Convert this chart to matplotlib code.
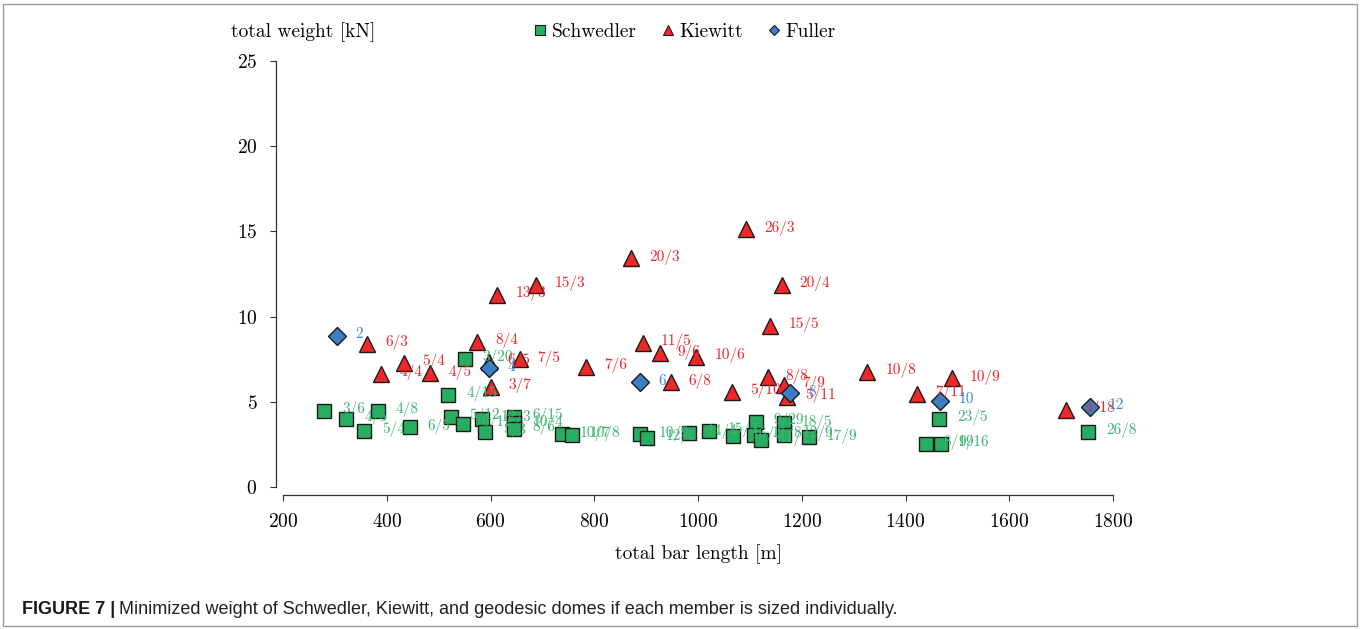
import numpy as np
import matplotlib.pyplot as plt
from matplotlib.lines import Line2D
from matplotlib.patches import Rectangle

plt.rcParams['font.family'] = ['cmr10', 'DejaVu Serif']
plt.rcParams['axes.formatter.use_mathtext'] = True

# Schwedler domes: total bar length [m], total weight [kN], rings/meridians
schwedler_x = [279, 322, 383, 356, 444, 519, 550, 524, 547, 584, 590, 645, 646, 646,
               737, 757, 889, 902, 982, 1022, 1068, 1111, 1108, 1121, 1165, 1166, 1214,
               1465, 1439, 1468, 1752]
schwedler_y = [4.48, 4.01, 4.48, 3.30, 3.50, 5.40, 7.51, 4.13, 3.70, 3.99, 3.25, 4.13, 3.74, 3.40,
               3.09, 3.05, 3.09, 2.89, 3.19, 3.29, 3.01, 3.83, 3.05, 2.76, 3.73, 3.05, 2.91,
               3.99, 2.55, 2.52, 3.25]
schwedler_lbl = ['3/6', '4/5', '4/8', '5/4', '6/5', '4/15', '3/20', '5/12', '6/12', '12/3', '5/3',
                 '6/15', '10/4', '8/6', '10/7', '10/8', '10/9', '12/6', '14/4', '15/4', '16/4',
                 '9/29', '11/8', '11/11', '18/5', '12/9', '17/9', '23/5', '8/19', '9/16', '26/8']

# Kiewitt domes
kiewitt_x = [362, 389, 434, 484, 574, 600, 597, 656, 613, 688, 784, 871, 894, 926, 947, 997,
             1066, 1093, 1134, 1139, 1161, 1166, 1171, 1326, 1423, 1489, 1710]
kiewitt_y = [8.39, 6.63, 7.30, 6.67, 8.53, 5.89, 7.35, 7.49, 11.27, 11.85, 7.06, 13.42, 8.47, 7.84,
             6.14, 7.65, 5.59, 15.12, 6.44, 9.45, 11.85, 5.99, 5.30, 6.77, 5.46, 6.38, 4.52]
kiewitt_lbl = ['6/3', '4/4', '5/4', '4/5', '8/4', '3/7', '6/5', '7/5', '13/3', '15/3', '7/6', '20/3',
               '11/5', '9/6', '6/8', '10/6', '5/10', '26/3', '8/8', '15/5', '20/4', '7/9', '5/11',
               '10/8', '7/11', '10/9', '4/18']

# geodesic (Fuller) domes, frequency
fuller_x = [304, 598, 888, 1178, 1467, 1756]
fuller_y = [8.88, 6.97, 6.14, 5.50, 5.07, 4.71]
fuller_lbl = ['2', '4', '6', '8', '10', '12']

x_ticks = [200, 400, 600, 800, 1000, 1200, 1400, 1600, 1800]
y_ticks = [0, 5, 10, 15, 20, 25]

green, green_txt = '#27ae60', '#3cb371'
red, red_txt = '#f02828', '#e8262b'
blue, blue_txt = '#3a7fc4', '#3b88d0'
edge = '#1a1a1a'

fig = plt.figure(figsize=(13.6, 6.29), dpi=100)
ax = fig.add_axes([283 / 1360, 1 - 487 / 629, 830 / 1360, 426 / 629])

ax.plot(schwedler_x, schwedler_y, 's', ms=10.5, mfc=green, mec=edge, mew=1.0, zorder=3)
ax.plot(kiewitt_x, kiewitt_y, '^', ms=11.5, mfc=red, mec=edge, mew=1.0, zorder=4)
ax.plot(fuller_x, fuller_y, 'D', ms=9.2, mfc=blue, mec=edge, mew=1.0, zorder=5)

for xs, ys, lbls, c in [(schwedler_x, schwedler_y, schwedler_lbl, green_txt),
                        (kiewitt_x, kiewitt_y, kiewitt_lbl, red_txt),
                        (fuller_x, fuller_y, fuller_lbl, blue_txt)]:
    for x, y, t in zip(xs, ys, lbls):
        ax.annotate(t, (x, y), xytext=(13, 1), textcoords='offset points',
                    ha='left', va='center', fontsize=11, color=c, zorder=6)

ax.set_xlim(200, 1800)
ax.set_ylim(0, 25)
ax.set_xticks(x_ticks)
ax.set_yticks(y_ticks)
ax.tick_params(labelsize=14, length=4.5, width=0.8, color='#333333')
ax.tick_params(axis='x', pad=8)
ax.tick_params(axis='y', pad=9)
for s in ['top', 'right']:
    ax.spines[s].set_visible(False)
ax.spines['left'].set_position(('outward', 5))
ax.spines['bottom'].set_position(('outward', 6))
for s in ['left', 'bottom']:
    ax.spines[s].set_linewidth(0.9)
    ax.spines[s].set_color('#333333')

ax.set_xlabel('total bar length [m]', fontsize=14, labelpad=10)
fig.text(231 / 1360, 1 - 32 / 629, 'total weight [kN]', fontsize=14, ha='left', va='center')

handles = [Line2D([], [], ls='none', marker='s', ms=6.5, mfc=green, mec=edge, mew=0.8),
           Line2D([], [], ls='none', marker='^', ms=7.5, mfc=red, mec=edge, mew=0.8),
           Line2D([], [], ls='none', marker='D', ms=5.5, mfc=blue, mec=edge, mew=0.8)]
fig.legend(handles, ['Schwedler', 'Kiewitt', 'Fuller'], loc='center',
           bbox_to_anchor=(684 / 1360, 1 - 32 / 629), ncol=3, frameon=False,
           fontsize=14, handlelength=0.8, handletextpad=0.2, columnspacing=1.2)

# caption: bold figure number followed by the plain sentence
cap_y = 1 - 610 / 629
head = fig.text(22 / 1360, cap_y, 'FIGURE 7 |', fontsize=13, fontweight='bold',
                family='Liberation Sans', color='#1a1a1a', ha='left', va='center')
fig.canvas.draw()
bb = head.get_window_extent().transformed(fig.transFigure.inverted())
fig.text(bb.x1 + 4 / 1360, cap_y,
         'Minimized weight of Schwedler, Kiewitt, and geodesic domes if each member is sized individually.',
         fontsize=13, family='Liberation Sans', color='#222222', ha='left', va='center')
fig.patches.append(Rectangle((3 / 1360, 3 / 629), 1354 / 1360, 622 / 629, transform=fig.transFigure,
                             fill=False, edgecolor='#9a9a9a', lw=1.0))

fig.savefig('out.png', dpi=100)
